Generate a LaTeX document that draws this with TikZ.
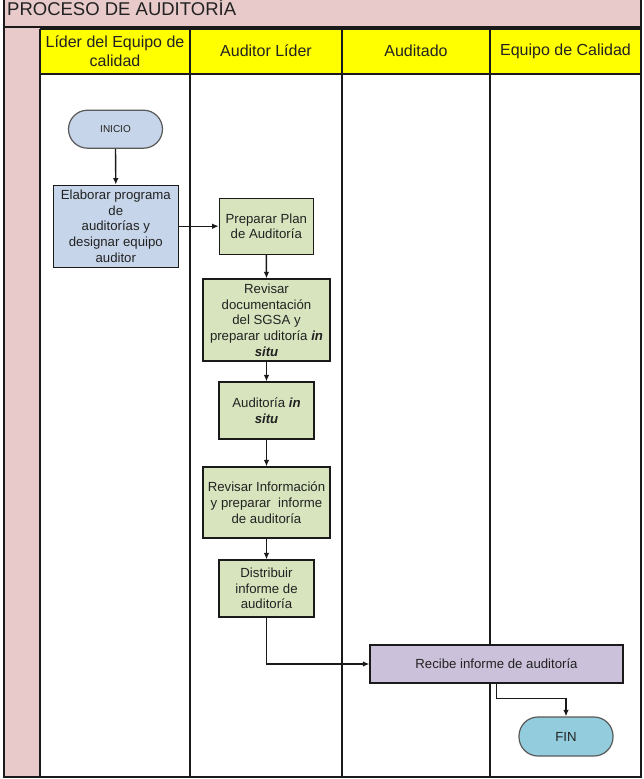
\documentclass[tikz,border=0pt]{standalone}
\usepackage{fontspec}
\setmainfont{Liberation Sans}
\usetikzlibrary{arrows.meta,calc}
\definecolor{pinkbg}{HTML}{E8CACA}
\definecolor{hdryellow}{HTML}{FFFF00}
\definecolor{blueb}{HTML}{C6D5E9}
\definecolor{greenb}{HTML}{D7E4BD}
\definecolor{lavb}{HTML}{CCC1DA}
\definecolor{finb}{HTML}{93CDDD}
\definecolor{linec}{HTML}{1A1A1A}
\definecolor{txtc}{HTML}{222222}
\begin{document}
\begin{tikzpicture}[x=1pt,y=-1pt,
  gridl/.style={line width=1.4pt, draw=linec},
  box/.style={draw=linec, line width=1.2pt, inner sep=1pt, align=center,
    font=\fontsize{13.2}{15.7}\selectfont, text=txtc},
  term/.style={box, rounded corners=19pt, draw=black!65},
  hdr/.style={align=center, font=\fontsize{16}{19.4}\selectfont, text=txtc},
  arr/.style={-{Latex[length=6.5pt,width=5.5pt]}, line width=1.4pt, draw=linec}]
\useasboundingbox (0,0) rectangle (643,779);
% title bar
\fill[pinkbg] (4,0) rectangle (641,27);
\node[anchor=base west, font=\fontsize{18.5}{20}\selectfont, text=txtc, inner sep=0pt] (title) at (7,15.5) {PROCESO DE AUDITORÍA};
% left band and header
\fill[pinkbg] (4,27) rectangle (40,777);
\fill[hdryellow] (40,29) rectangle (641,74);
\fill[white] (40,74) rectangle (641,777);
\draw[gridl] (4,27) -- (641,27);
\draw[gridl] (40,29) -- (641,29);
\draw[gridl] (40,74) -- (641,74);
\draw[gridl] (4,0) -- (4,777) -- (641,777) -- (641,0);
\foreach \xx in {40,190,342,490} \draw[gridl] (\xx,29) -- (\xx,777);
% headers
\node[hdr] (h1) at (115,51) {Líder del Equipo de\\calidad};
\node[hdr] (h2) at (266,51) {Auditor Líder};
\node[hdr] (h3) at (416,51) {Auditado};
\node[hdr] (h4) at (565.5,51) {Equipo de Calidad};
% nodes
\node[term, fill=blueb, minimum width=94pt, minimum height=38pt, font=\fontsize{10}{12}\selectfont] (ini) at (115.5,129.2) {INICIO};
\node[box, fill=blueb, minimum width=125pt, minimum height=82pt] (ela) at (115.8,226.2) {Elaborar programa\\de\\auditorías y\\designar equipo\\auditor};
\node[box, fill=greenb, minimum width=94pt, minimum height=56pt] (pre) at (266.3,226.3) {Preparar Plan\\de Auditoría};
\node[box, fill=greenb, minimum width=127pt, minimum height=82pt] (rev) at (266.5,320) {Revisar\\documentación\\del SGSA y\\preparar uditoría \textbf{\textit{in}}\\\textbf{\textit{situ}}};
\node[box, fill=greenb, minimum width=95pt, minimum height=57pt] (aud) at (266.5,410.5) {Auditoría \textbf{\textit{in}}\\\textbf{\textit{situ}}};
\node[box, fill=greenb, minimum width=127pt, minimum height=71pt] (inf) at (266.5,502.5) {Revisar Información\\y preparar\ \ informe\\de auditoría};
\node[box, fill=greenb, minimum width=95pt, minimum height=57pt] (dis) at (266.5,588.5) {Distribuir\\informe de\\auditoría};
\node[box, fill=lavb, minimum width=253pt, minimum height=38pt] (rec) at (496.5,664) {Recibe informe de auditoría};
\node[term, fill=finb, minimum width=94pt, minimum height=39pt] (fin) at (566,736.5) {FIN};
% connectors
\draw[arr] (ini.south) -- (ela.north);
\draw[arr] (ela.east) -- (ela.east -| pre.west);
\draw[arr] (pre.south) -- (rev.north);
\draw[arr] (rev.south) -- (aud.north);
\draw[arr] (aud.south) -- (inf.north);
\draw[arr] (inf.south) -- (dis.north);
\draw[arr] (dis.south) |- (rec.west);
\draw[arr] (rec.south) -- ++(0,15) -| (fin.north);
\end{tikzpicture}
\end{document}
